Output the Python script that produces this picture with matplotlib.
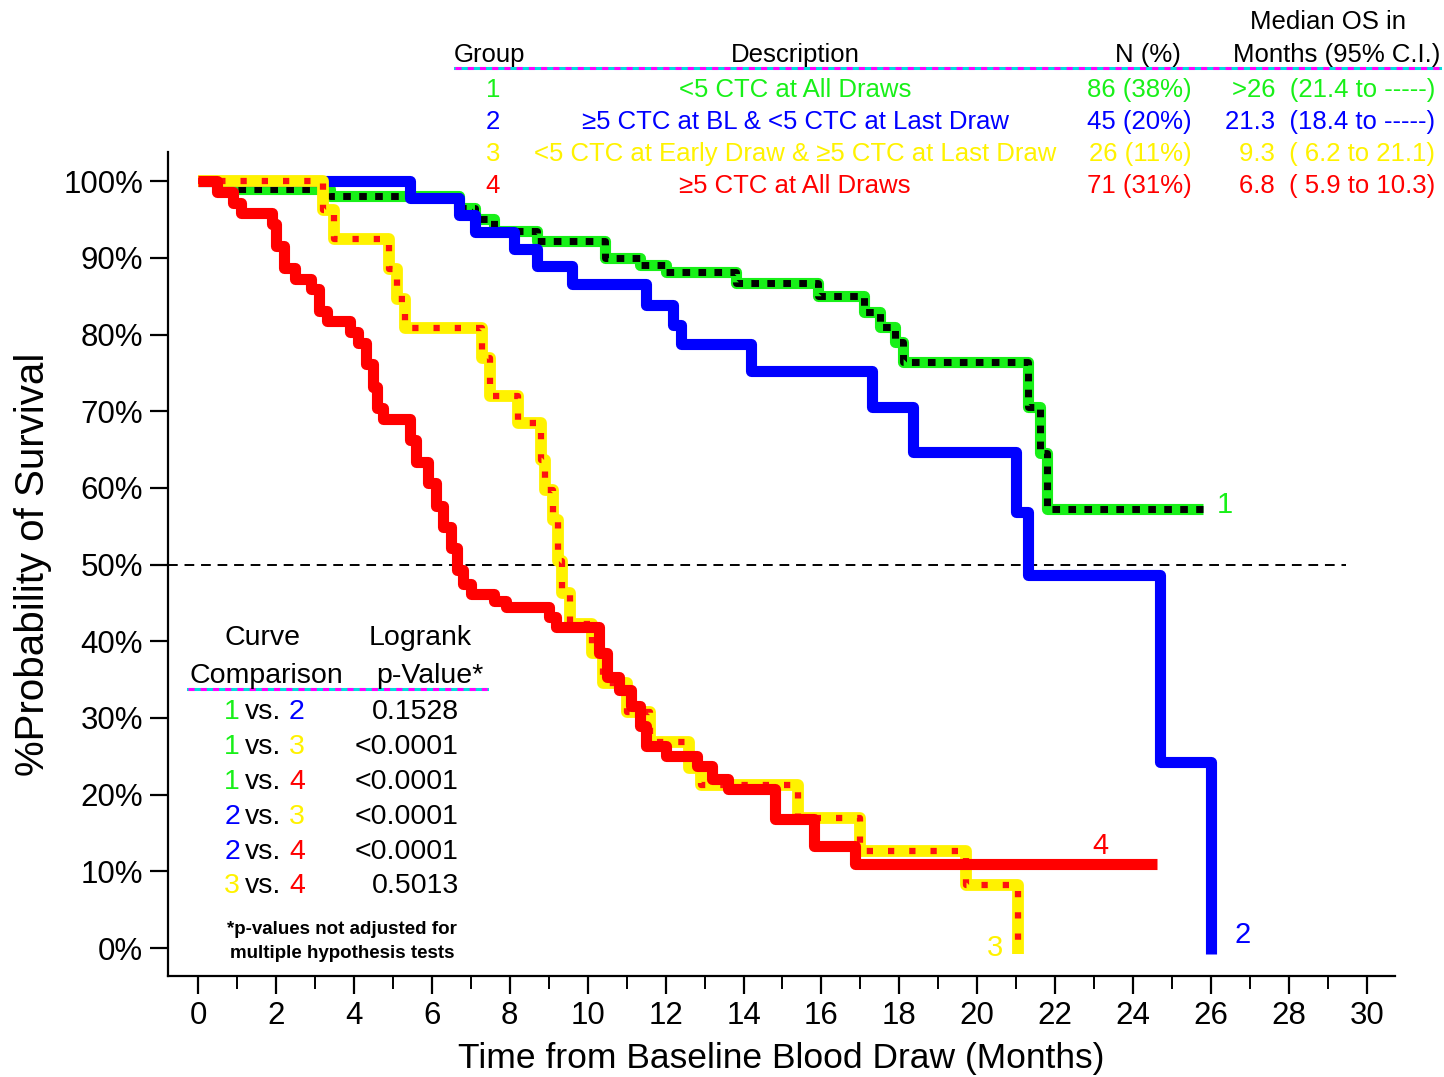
import matplotlib
matplotlib.use("Agg")
import matplotlib.pyplot as plt
from matplotlib.ticker import MultipleLocator, FuncFormatter

plt.rcParams['font.family'] = ['Liberation Sans', 'DejaVu Sans']

# ---------------- data ----------------
g1_t = [0, 0.8, 3.4, 6.7, 7.1, 7.6, 8.7, 10.45, 11.35, 12.0, 13.8, 15.9, 17.1, 17.5, 17.9, 18.1, 21.3, 21.6, 21.8, 25.8]
g1_s = [100, 99, 98, 96.5, 95, 93.5, 92.2, 90.0, 89.0, 88.1, 86.7, 85, 83, 81, 79, 76.4, 70.6, 64.6, 57.2, 57.2]

g2_t = [0, 5.45, 6.7, 7.1, 8.1, 8.7, 9.6, 11.5, 12.2, 12.4, 14.2, 17.3, 18.35, 21.0, 21.3, 24.7, 26.0]
g2_s = [100, 97.8, 95.6, 93.4, 91.2, 88.9, 86.6, 83.8, 81.2, 78.7, 75.3, 70.5, 64.7, 56.8, 48.7, 24.2, -0.8]

g3_t = [0, 3.2, 3.5, 4.9, 5.1, 5.3, 7.3, 7.5, 8.2, 8.8, 8.9, 9.1, 9.25, 9.35, 9.55, 10.1, 10.4, 11.0, 11.6, 12.6, 12.9, 15.4, 17.0, 19.7, 21.05]
g3_s = [100, 96.2, 92.5, 88.5, 84.6, 80.8, 76.9, 72.0, 68.4, 63.7, 59.7, 55.8, 50.5, 46.3, 42.3, 38.5, 34.6, 30.8, 26.9, 23.5, 21.2, 17.0, 12.7, 8.2, -0.8]

g4_t = [0, 0.5, 0.9, 1.1, 1.9, 2.0, 2.2, 2.5, 2.9, 3.1, 3.3, 3.9, 4.1, 4.3, 4.5, 4.6, 4.75, 5.45, 5.6, 5.9, 6.1, 6.3, 6.5,
        6.65, 6.8, 7.0, 7.6, 7.9, 9.0, 9.2, 10.3, 10.5, 10.8, 11.1, 11.35, 11.5, 12.0, 12.8, 13.2, 13.6, 14.8, 15.8, 16.85, 24.6]
g4_s = [100, 98.6, 97.2, 95.8, 94.4, 91.5, 88.7, 87.3, 85.9, 83.1, 81.7, 80.3, 78.9, 76.1, 73.2, 70.4, 69.0, 66.2, 63.4, 60.6,
        57.7, 54.9, 52.1, 49.3, 47.5, 46.2, 45.3, 44.5, 43.2, 41.8, 38.5, 35.4, 33.7, 31.5, 28.9, 26.3, 25.0, 23.7, 22.0, 20.7,
        16.8, 13.3, 10.9, 10.9]

x_ticks = list(range(0, 31, 2))
y_ticks = list(range(0, 101, 10))

groups = ["1", "2", "3", "4"]
descriptions = ["<5 CTC at All Draws",
                "\u22655 CTC at BL & <5 CTC at Last Draw",
                "<5 CTC at Early Draw & \u22655 CTC at Last Draw",
                "\u22655 CTC at All Draws"]
n_pct = ["86 (38%)", "45 (20%)", "26 (11%)", "71 (31%)"]
median_os = [">26  (21.4 to -----)", "21.3  (18.4 to -----)", "9.3  ( 6.2 to 21.1)", "6.8  ( 5.9 to 10.3)"]

comparisons = [("1", "2"), ("1", "3"), ("1", "4"), ("2", "3"), ("2", "4"), ("3", "4")]
p_values = ["0.1528", "<0.0001", "<0.0001", "<0.0001", "<0.0001", "0.5013"]

colors = {"1": "#18F018", "2": "#0000FF", "3": "#FFF200", "4": "#FF0000"}

# ---------------- figure ----------------
W, H = 1444, 1077
fig = plt.figure(figsize=(W / 100, H / 100), dpi=100)

def fx(px):
    return px / W

def fy(py):
    return 1 - py / H

ax = fig.add_axes([fx(168), fy(976), fx(1395) - fx(168), fy(152) - fy(976)])
ax.set_xlim(-0.77, 30.72)
ax.set_ylim(-3.65, 103.8)

# curves
ax.step(g1_t, g1_s, where='post', color=colors["1"], lw=8, solid_capstyle='butt', zorder=3)
ax.step(g1_t, g1_s, where='post', color='black', lw=5, dashes=(1.1, 1.2), zorder=3.1)
ax.step(g2_t, g2_s, where='post', color=colors["2"], lw=8, solid_capstyle='butt', zorder=4)
ax.step(g3_t, g3_s, where='post', color=colors["3"], lw=8.5, solid_capstyle='butt', zorder=5)
ax.step(g3_t, g3_s, where='post', color='#FF1010', lw=4.5, dashes=(1, 2.4), zorder=5.1)
ax.step(g4_t, g4_s, where='post', color=colors["4"], lw=8, solid_capstyle='butt', zorder=6)

# median reference line
ax.plot([-0.77, 29.45], [50, 50], color='black', lw=1.4, dashes=(5, 3.5), zorder=2)

# curve numbers
ax.text(26.36, 57.8, "1", color=colors["1"], fontsize=21, ha='center', va='center')
ax.text(26.82, 1.7, "2", color=colors["2"], fontsize=21, ha='center', va='center')
ax.text(20.45, 0.0, "3", color=colors["3"], fontsize=21, ha='center', va='center')
ax.text(23.15, 13.3, "4", color=colors["4"], fontsize=21, ha='center', va='center')

# axes styling
for s in ['top', 'right']:
    ax.spines[s].set_visible(False)
for s in ['left', 'bottom']:
    ax.spines[s].set_linewidth(1.6)
ax.set_xticks(x_ticks)
ax.xaxis.set_minor_locator(MultipleLocator(1))
ax.set_yticks(y_ticks)
ax.yaxis.set_major_formatter(FuncFormatter(lambda v, p: f"{int(v)}%"))
ax.tick_params(axis='both', which='major', length=13, width=1.6, labelsize=22.5, pad=5)
ax.tick_params(axis='x', which='minor', length=9, width=1.4)
ax.set_xlabel("Time from Baseline Blood Draw (Months)", fontsize=25.5, labelpad=8)
ax.set_ylabel("%Probability of Survival", fontsize=29, labelpad=8)

# ---------------- top table ----------------
tfs = 18.5
fig.text(fx(1328), fy(22), "Median OS in", fontsize=tfs, ha='center', va='center')
fig.text(fx(490), fy(55), "Group", fontsize=tfs, ha='center', va='center')
fig.text(fx(795), fy(55), "Description", fontsize=tfs, ha='center', va='center')
fig.text(fx(1148), fy(55), "N (%)", fontsize=tfs, ha='center', va='center')
fig.text(fx(1337), fy(55), "Months (95% C.I.)", fontsize=tfs, ha='center', va='center')
fig.lines.append(plt.Line2D([fx(455), fx(1440)], [fy(68), fy(68)], transform=fig.transFigure,
                            color='#00DDDD', lw=2.2))
fig.lines.append(plt.Line2D([fx(455), fx(1440)], [fy(68), fy(68)], transform=fig.transFigure,
                            color='#FF00FF', lw=2.2, dashes=(2, 2)))
row_y = [90, 122, 154, 186]
for g, d, n, m, ry in zip(groups, descriptions, n_pct, median_os, row_y):
    c = colors[g]
    fig.text(fx(493), fy(ry), g, fontsize=tfs, ha='center', va='center', color=c)
    fig.text(fx(795), fy(ry), d, fontsize=tfs, ha='center', va='center', color=c)
    fig.text(fx(1192), fy(ry), n, fontsize=tfs, ha='right', va='center', color=c)
    fig.text(fx(1435), fy(ry), m, fontsize=tfs, ha='right', va='center', color=c)

# ---------------- logrank box ----------------
lfs = 20.5
fig.text(fx(263), fy(638), "Curve", fontsize=lfs, ha='center', va='center')
fig.text(fx(420), fy(638), "Logrank", fontsize=lfs, ha='center', va='center')
fig.text(fx(266), fy(676), "Comparison", fontsize=lfs, ha='center', va='center')
fig.text(fx(430), fy(676), "p-Value*", fontsize=lfs, ha='center', va='center')
fig.lines.append(plt.Line2D([fx(188), fx(487)], [fy(689), fy(689)], transform=fig.transFigure,
                            color='#00DDDD', lw=2.2))
fig.lines.append(plt.Line2D([fx(188), fx(487)], [fy(689), fy(689)], transform=fig.transFigure,
                            color='#FF00FF', lw=2.2, dashes=(2, 2)))
comp_y = [712, 747, 782, 817, 852, 886]
for (a, b), p, ry in zip(comparisons, p_values, comp_y):
    fig.text(fx(232), fy(ry), a, fontsize=lfs, ha='center', va='center', color=colors[a])
    fig.text(fx(263), fy(ry), "vs.", fontsize=lfs, ha='center', va='center', color='black')
    fig.text(fx(297), fy(ry), b, fontsize=lfs, ha='center', va='center', color=colors[b])
    fig.text(fx(459), fy(ry), p, fontsize=lfs, ha='right', va='center', color='black')
fig.text(fx(342), fy(929), "*p-values not adjusted for", fontsize=13.5, fontweight='bold',
         ha='center', va='center')
fig.text(fx(342), fy(953), "multiple hypothesis tests", fontsize=13.5, fontweight='bold',
         ha='center', va='center')

fig.savefig("out.png", dpi=100)
